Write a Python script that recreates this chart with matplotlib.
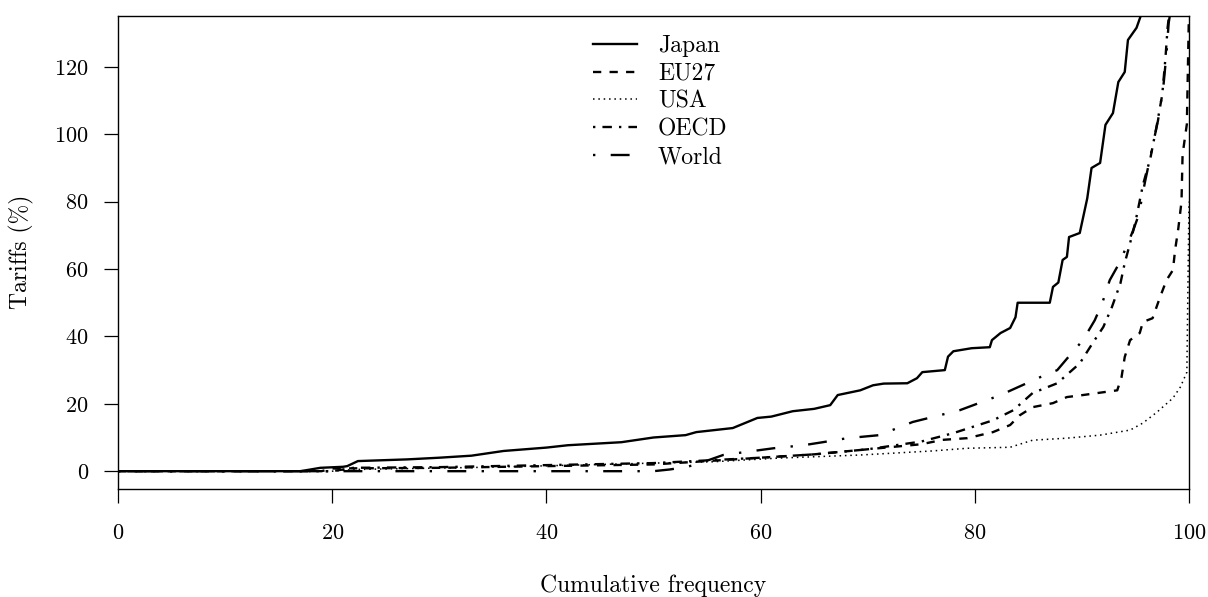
import matplotlib
matplotlib.use("Agg")
import matplotlib.pyplot as plt

plt.rcParams['font.family'] = 'serif'
plt.rcParams['font.serif'] = ['cmr10', 'DejaVu Serif']
plt.rcParams['mathtext.fontset'] = 'cm'
plt.rcParams['axes.formatter.use_mathtext'] = True

# ---- data (cumulative frequency %, tariff %) ----
japan_x = [0, 17, 17.6, 18.9, 21.0, 21.4, 22.4, 27, 30, 33, 36, 40, 42, 47, 50, 53, 54, 57.4, 59.7, 61,
           63, 65, 66.5, 67.2, 69.3, 70.5, 71.5, 73.7, 74.6, 75.1, 77.2, 77.5, 78, 79.7, 81.4, 81.6,
           82.4, 83.3, 83.8, 84.0, 87.0, 87.3, 87.8, 88.2, 88.6, 88.8, 89.8, 90.5, 90.9, 91.7, 92.2,
           92.9, 93.4, 94.0, 94.3, 95.1, 95.7]
japan_y = [0, 0, 0.3, 1.0, 1.3, 1.5, 3.0, 3.5, 4.0, 4.6, 6.0, 7.0, 7.7, 8.6, 10.0, 10.7, 11.6, 12.8, 15.8,
           16.2, 17.8, 18.5, 19.6, 22.6, 24.0, 25.5, 26.0, 26.1, 27.6, 29.4, 30.0, 34.0, 35.6, 36.5,
           36.8, 38.9, 41.0, 42.5, 45.7, 50.0, 50.0, 54.7, 56.0, 62.7, 63.6, 69.5, 70.7, 81.0, 90.0,
           91.5, 102.8, 106.3, 115.5, 118.5, 128.0, 131.6, 137.0]

eu_x = [0, 19, 20, 30, 40, 50, 53, 55, 60, 65, 70, 75, 77, 79.3, 81.7, 83.3, 84.2, 85.4, 87.3, 88.6,
        90.1, 93.3, 93.7, 94.0, 94.5, 95.4, 95.7, 96.6, 97.3, 97.9, 98.5, 98.7, 99.0, 99.3, 99.4,
        99.8, 99.9, 100]
eu_y = [0, 0, 0.8, 1.0, 1.5, 2.0, 2.6, 3.0, 4.0, 5.0, 6.5, 8.0, 9.3, 9.8, 11.6, 13.7, 16.6, 19.0,
        20.2, 22.0, 22.6, 24.0, 27.9, 33.9, 38.9, 41.0, 44.3, 45.4, 51.7, 56.7, 59.7, 65.6, 72.0,
        80.0, 94.0, 103.0, 120.0, 137.0]

usa_x = [0, 20, 22, 35, 45, 50, 55.6, 61.8, 69.3, 76, 79.3, 83.3, 85.4, 88.6, 91.7, 94.5, 95.7,
         97.0, 98.5, 99.2, 99.8, 100]
usa_y = [0, 0, 0.5, 1.2, 2.0, 2.4, 2.8, 3.9, 4.8, 6.0, 6.8, 7.1, 9.2, 9.8, 10.7, 12.2, 14.3, 17.5,
         21.7, 25.0, 29.4, 80.0]

oecd_x = [0, 20, 22, 30, 40, 50, 55, 60, 65, 70, 75, 78, 81.7, 83.6, 85.4, 87.7, 89.8, 91.0, 92.0,
          92.8, 93.6, 94.0, 94.5, 95.0, 95.7, 96.4, 97.0, 97.5, 97.8, 98.0, 98.2]
oecd_y = [0, 0, 1.0, 1.2, 1.8, 2.4, 3.2, 4.0, 5.0, 6.5, 8.8, 11.3, 15.1, 18.1, 23.2, 26.1, 32.0, 38.0,
          42.8, 48.7, 55.8, 61.8, 67.7, 74.0, 85.0, 93.0, 102.8, 111.7, 122.6, 131.6, 137.0]

world_x = [0, 20, 50, 51.5, 53, 54, 56.5, 61.2, 64, 65.8, 68.1, 71.1, 74.2, 78.6, 82.4, 86.1, 87.7,
           88.9, 90.1, 91.2, 91.9, 92.6, 93.5, 94.3, 94.8, 95.3, 95.9, 96.5, 97.1, 97.6, 97.9, 98.1,
           98.3]
world_y = [0, 0, 0, 0.5, 1.2, 2.0, 4.8, 6.8, 7.7, 8.6, 9.8, 10.7, 14.6, 18.1, 22.6, 27.9, 30.0, 34.5,
           38.9, 44.8, 49.9, 56.7, 61.8, 67.7, 71.6, 76.0, 86.0, 95.0, 104.0, 114.0, 124.0, 133.0,
           137.0]

labels = ["Japan", "EU27", "USA", "OECD", "World"]
x_ticks = [0, 20, 40, 60, 80, 100]
y_ticks = [0, 20, 40, 60, 80, 100, 120]

fs = 17
fig = plt.figure(figsize=(12.08, 5.97), dpi=100)
ax = fig.add_axes([118/1208, 1 - 488.7/597, (1189-118)/1208, (488.7-15.7)/597])

lw = 1.7
ax.plot(japan_x, japan_y, color='black', lw=lw, ls='-', label=labels[0])
ax.plot(eu_x, eu_y, color='black', lw=lw, ls=(0, (3.5, 3.5)), label=labels[1])
ax.plot(usa_x, usa_y, color='black', lw=1.1, ls=(0, (1, 2.5)), label=labels[2])
ax.plot(oecd_x, oecd_y, color='black', lw=lw, ls=(0, (1, 3, 4, 3)), label=labels[3])
ax.plot(world_x, world_y, color='black', lw=lw, ls=(0, (1, 6.5, 8, 6.5)), label=labels[4])

ax.set_xlim(0, 100)
ax.set_ylim(-5.2, 135.2)
ax.set_xticks(x_ticks)
ax.set_yticks(y_ticks)
ax.tick_params(direction='out', length=10, width=0.9, labelsize=16, pad=11)
ax.tick_params(axis='x', pad=15)
for s in ax.spines.values():
    s.set_linewidth(1.0)

ax.set_xlabel("Cumulative frequency", fontsize=fs, labelpad=23)
ax.set_ylabel("Tariffs (%)", fontsize=fs, labelpad=15)

leg = ax.legend(loc='upper left', bbox_to_anchor=(593/1208, 1 - 35/597),
                bbox_transform=fig.transFigure, frameon=False, fontsize=fs,
                handlelength=1.85, handletextpad=0.9, labelspacing=0.24, borderpad=0,
                borderaxespad=0)

fig.savefig("out.png", dpi=100)
